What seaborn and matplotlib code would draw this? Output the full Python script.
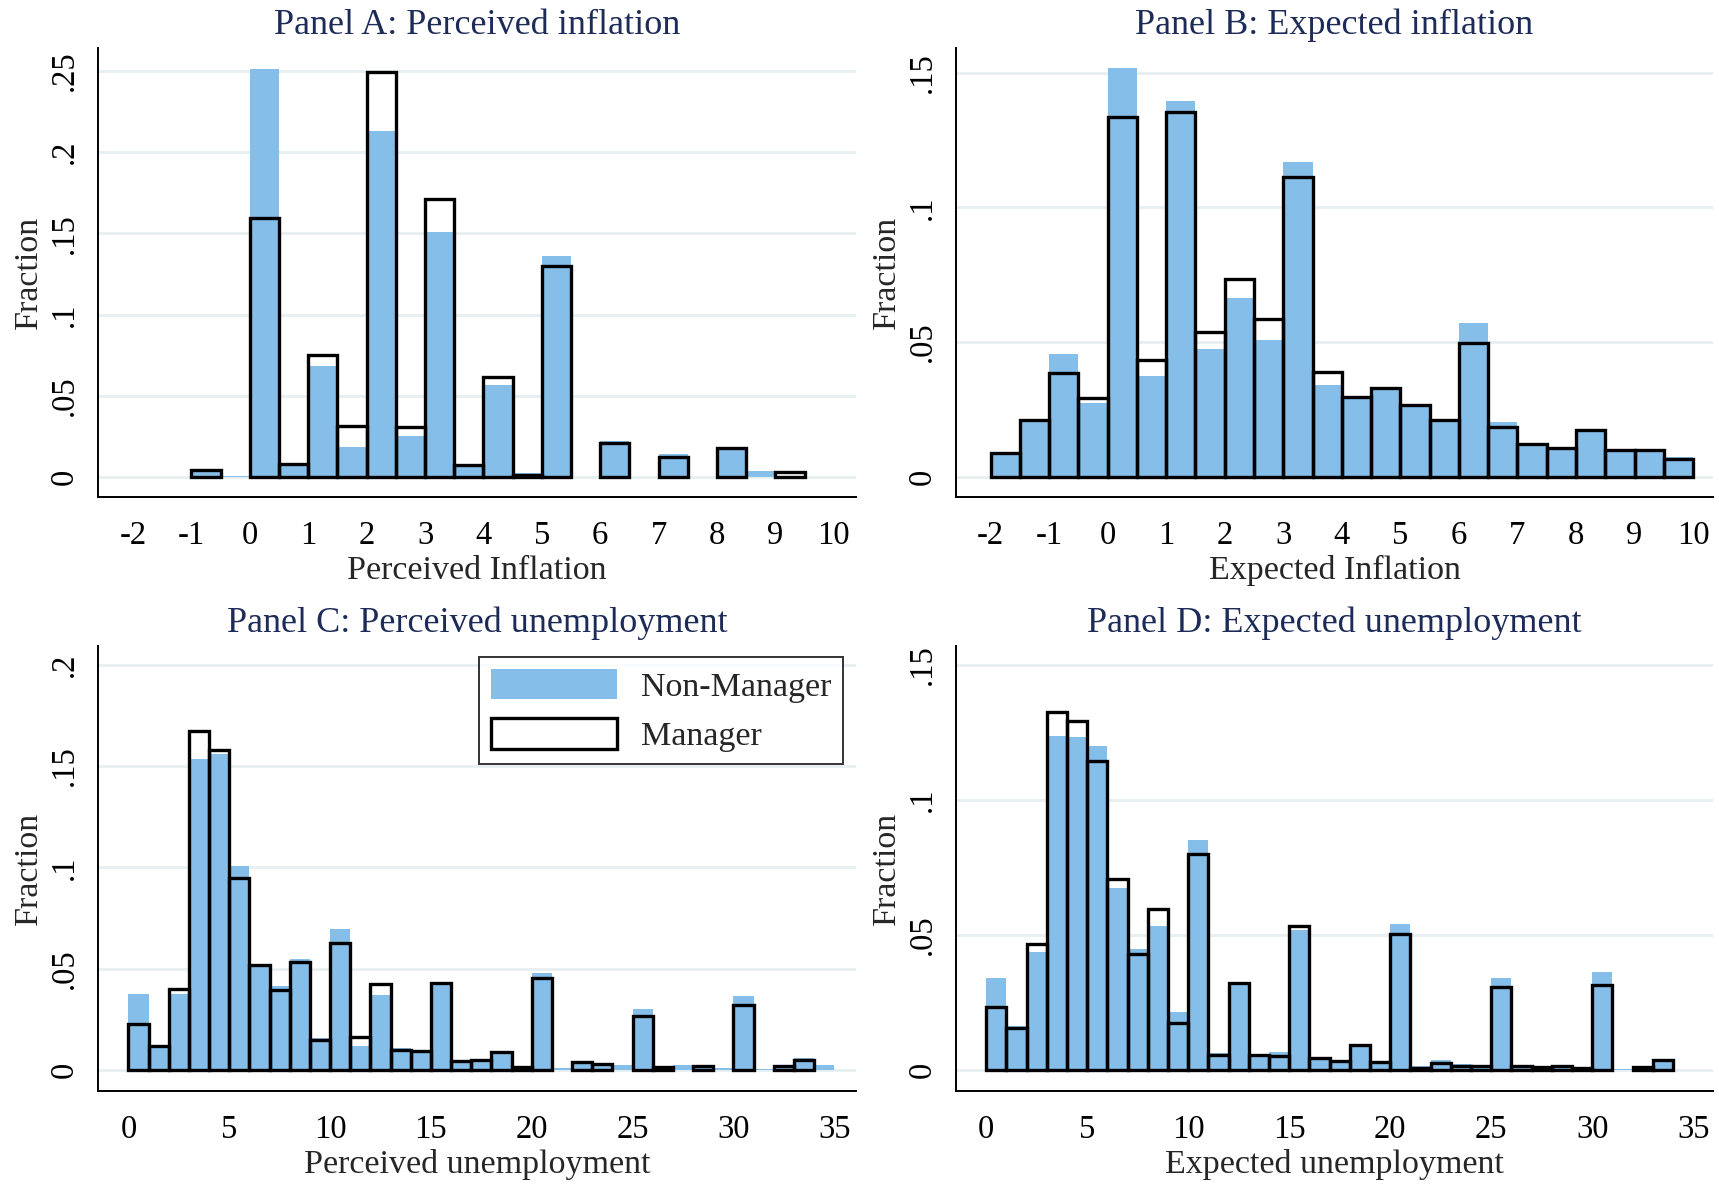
import numpy as np
import pandas as pd
import matplotlib
matplotlib.use("Agg")
import matplotlib.pyplot as plt
from matplotlib.patches import Patch
import seaborn as sns

# ============================================================
# DATA (fractions per bin)
# ============================================================
# Panel A: perceived inflation, bins of 0.5 from -1.5 to 9.5
nonmgr_A = [0.0003, 0.0037, 0.0007, 0.2514, 0.0065, 0.0682, 0.0187, 0.2130,
            0.0250, 0.1506, 0.0065, 0.0569, 0.0023, 0.1364, 0.0003, 0.0222,
            0.0003, 0.0139, 0.0003, 0.0180, 0.0037, 0.0]
mgr_A = [0.0, 0.0046, 0.0, 0.1598, 0.0083, 0.0752, 0.0315, 0.2493,
         0.0308, 0.1714, 0.0072, 0.0618, 0.0014, 0.1302, 0.0, 0.0210,
         0.0, 0.0123, 0.0, 0.0180, 0.0, 0.0032]

# Panel B: expected inflation, bins of 0.5 from -2 to 10
nonmgr_B = [0.0080, 0.0210, 0.0456, 0.0272, 0.1517, 0.0375, 0.1393, 0.0476,
            0.0664, 0.0508, 0.1168, 0.0342, 0.0296, 0.0328, 0.0265, 0.0212,
            0.0571, 0.0204, 0.0127, 0.0098, 0.0172, 0.0091, 0.0100, 0.0074]
mgr_B = [0.0089, 0.0210, 0.0384, 0.0293, 0.1336, 0.0434, 0.1355, 0.0536,
         0.0733, 0.0585, 0.1112, 0.0389, 0.0296, 0.0328, 0.0265, 0.0212,
         0.0497, 0.0184, 0.0120, 0.0105, 0.0172, 0.0098, 0.0100, 0.0066]

# Panel C: perceived unemployment, bins of 1 from 0 to 35
nonmgr_C = [0.0373, 0.0119, 0.0375, 0.1534, 0.1560, 0.1007, 0.0520, 0.0412,
            0.0549, 0.0156, 0.0696, 0.0117, 0.0369, 0.0106, 0.0093, 0.0423,
            0.0041, 0.0050, 0.0091, 0.0017, 0.0480, 0.0010, 0.0030, 0.0025,
            0.0022, 0.0300, 0.0010, 0.0022, 0.0010, 0.0011, 0.0364, 0.0005,
            0.0009, 0.0059, 0.0022]
mgr_C = [0.0226, 0.0119, 0.0399, 0.1675, 0.1580, 0.0946, 0.0520, 0.0393,
         0.0532, 0.0147, 0.0625, 0.0161, 0.0423, 0.0096, 0.0093, 0.0430,
         0.0045, 0.0050, 0.0091, 0.0013, 0.0455, 0.0, 0.0037, 0.0030,
         0.0, 0.0267, 0.0013, 0.0, 0.0017, 0.0, 0.0323, 0.0,
         0.0017, 0.0050, 0.0]

# Panel D: expected unemployment, bins of 1 from 0 to 34
nonmgr_D = [0.0342, 0.0163, 0.0438, 0.1238, 0.1233, 0.1198, 0.0672, 0.0447,
            0.0534, 0.0214, 0.0850, 0.0061, 0.0321, 0.0054, 0.0067, 0.0520,
            0.0040, 0.0030, 0.0092, 0.0026, 0.0540, 0.0015, 0.0038, 0.0021,
            0.0017, 0.0342, 0.0013, 0.0010, 0.0017, 0.0008, 0.0363, 0.0005,
            0.0015, 0.0038]
mgr_D = [0.0234, 0.0156, 0.0468, 0.1326, 0.1294, 0.1144, 0.0707, 0.0431,
         0.0597, 0.0175, 0.0800, 0.0056, 0.0321, 0.0054, 0.0050, 0.0532,
         0.0045, 0.0033, 0.0092, 0.0030, 0.0504, 0.0007, 0.0024, 0.0015,
         0.0013, 0.0306, 0.0013, 0.0010, 0.0015, 0.0008, 0.0313, 0.0,
         0.0010, 0.0038]

titles = ["Panel A: Perceived inflation", "Panel B: Expected inflation",
          "Panel C: Perceived unemployment", "Panel D: Expected unemployment"]
xlabels = ["Perceived Inflation", "Expected Inflation",
           "Perceived unemployment", "Expected unemployment"]

xticks_infl = list(range(-2, 11))
xticks_unemp = [0, 5, 10, 15, 20, 25, 30, 35]

yticks_A = [0, 0.05, 0.1, 0.15, 0.2, 0.25]
ylabels_A = ["0", ".05", ".1", ".15", ".2", ".25"]
yticks_B = [0, 0.05, 0.1, 0.15]
ylabels_B = ["0", ".05", ".1", ".15"]
yticks_C = [0, 0.05, 0.1, 0.15, 0.2]
ylabels_C = ["0", ".05", ".1", ".15", ".2"]

legend_labels = ["Non-Manager", "Manager"]

# ============================================================
# STYLE
# ============================================================
BLUE = "#85BEE8"
NAVY = "#1C2B57"
GRID = "#E6EFF1"

sns.set_style("white")
plt.rcParams["font.family"] = ["Liberation Serif", "DejaVu Serif"]

W, H = 1719, 1186
fig = plt.figure(figsize=(W / 100, H / 100), dpi=100)


def make_axes(left, top, right, bottom):
    return fig.add_axes([left / W, 1 - bottom / H, (right - left) / W, (bottom - top) / H])


panels = [
    dict(ax=make_axes(98, 48, 856, 497), start=-1.5, width=0.5, non=nonmgr_A, mgr=mgr_A,
         xlim=(-2.6, 10.38), ylim=(-0.0123, 0.2642), xt=xticks_infl, yt=yticks_A, yl=ylabels_A),
    dict(ax=make_axes(956, 48, 1713, 497), start=-2.0, width=0.5, non=nonmgr_B, mgr=mgr_B,
         xlim=(-2.59, 10.34), ylim=(-0.0075, 0.1591), xt=xticks_infl, yt=yticks_B, yl=ylabels_B),
    dict(ax=make_axes(98, 646, 856, 1091), start=0.0, width=1.0, non=nonmgr_C, mgr=mgr_C,
         xlim=(-1.51, 36.08), ylim=(-0.0104, 0.2093), xt=xticks_unemp, yt=yticks_C, yl=ylabels_C),
    dict(ax=make_axes(956, 646, 1713, 1091), start=0.0, width=1.0, non=nonmgr_D, mgr=mgr_D,
         xlim=(-1.5, 35.98), ylim=(-0.0078, 0.157), xt=xticks_unemp, yt=yticks_B, yl=ylabels_B),
]

for i, p in enumerate(panels):
    ax = p["ax"]
    n = len(p["non"])
    edges = list(p["start"] + p["width"] * np.arange(n + 1))
    centers = [(a + b) / 2 for a, b in zip(edges[:-1], edges[1:])]
    df = pd.DataFrame({"value": centers, "non": p["non"], "mgr": p["mgr"]})

    # non-managers: solid blue bars
    sns.histplot(data=df, x="value", weights="non", bins=edges, stat="count",
                 color=BLUE, alpha=1, linewidth=0, ax=ax)
    # managers: black outline bars
    sns.histplot(data=df, x="value", weights="mgr", bins=edges, stat="count",
                 fill=False, color="black", linewidth=2.4, ax=ax)
    # drop empty manager bins so no black line runs along the baseline
    for patch in list(ax.patches):
        if patch.get_height() == 0:
            patch.remove()

    ax.set_xlim(*p["xlim"])
    ax.set_ylim(*p["ylim"])
    ax.set_xticks(p["xt"])
    ax.set_xticklabels([str(t) for t in p["xt"]])
    ax.set_yticks(p["yt"])
    ax.set_yticklabels(p["yl"], rotation=90, va="center")

    ax.yaxis.grid(True, color=GRID, linewidth=2)
    ax.xaxis.grid(False)
    ax.set_axisbelow(True)

    sns.despine(ax=ax)
    for side in ["left", "bottom"]:
        ax.spines[side].set_color("black")
        ax.spines[side].set_linewidth(1.4)

    ax.tick_params(axis="both", direction="out", length=10, width=1.3,
                   color="black", labelsize=23.5, labelcolor="black")
    ax.tick_params(axis="x", pad=7)
    ax.tick_params(axis="y", pad=3)

    ax.set_title(titles[i], fontsize=26, color=NAVY, pad=10)
    ax.set_xlabel(xlabels[i], fontsize=24.5, labelpad=3)
    ax.set_ylabel("Fraction", fontsize=24.5, labelpad=4)

# legend in panel C
handles = [Patch(facecolor=BLUE, edgecolor=BLUE, linewidth=0),
           Patch(facecolor="white", edgecolor="black", linewidth=2.4)]
leg = panels[2]["ax"].legend(handles, legend_labels, loc="upper right",
                             bbox_to_anchor=(0.983, 0.975), borderaxespad=0,
                             fontsize=24.5, frameon=True, fancybox=False,
                             handlelength=3.7, handleheight=1.0, handletextpad=0.7,
                             borderpad=0.35, labelspacing=0.45)
leg.get_frame().set_edgecolor("black")
leg.get_frame().set_linewidth(1.4)

fig.savefig("out.png", dpi=100, facecolor="white")
